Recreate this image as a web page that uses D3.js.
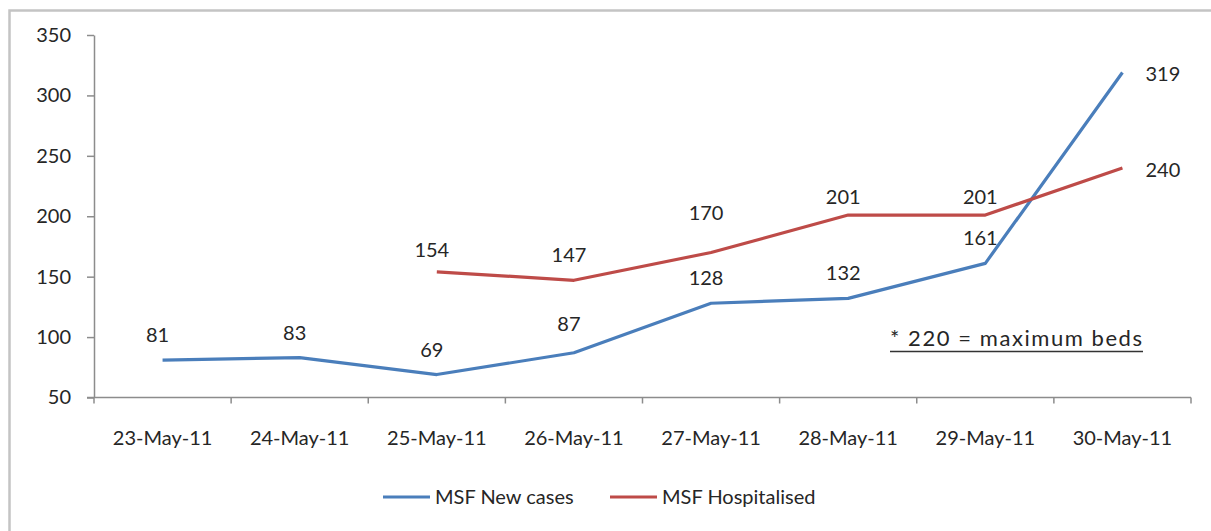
<!DOCTYPE html>
<html><head><meta charset="utf-8">
<script src="https://cdn.jsdelivr.net/npm/d3@7"></script>
<style>
html,body{margin:0;padding:0;background:#fff;}
svg{display:block;}
text{font-family:"Lato","Open Sans",sans-serif;fill:#262626;}
</style></head>
<body>
<svg id="chart" width="1211" height="531"></svg>
<script>
const categories = ["23-May-11","24-May-11","25-May-11","26-May-11","27-May-11","28-May-11","29-May-11","30-May-11"];
const newCases = [81, 83, 69, 87, 128, 132, 161, 319];
const hospitalised = [null, null, 154, 147, 170, 201, 201, 240];
const yTicks = [50, 100, 150, 200, 250, 300, 350];
const seriesNames = ["MSF New cases", "MSF Hospitalised"];
const seriesColors = ["#4a7ebb", "#be4b48"];
const note = "* 220 = maximum beds";

const FS = 20;
const svg = d3.select("#chart");
const L = 94, R = 1191, T = 35, B = 397.5;

// outer frame
svg.append("rect").attr("x",9.5).attr("y",10.5).attr("width",1400).attr("height",700)
  .attr("fill","none").attr("stroke","#c4c4c4").attr("stroke-width",2.5);

const x = d3.scaleBand().domain(categories).range([L, R]);
const cx = d => x(d) + x.bandwidth()/2;
const y = d3.scaleLinear().domain([50, 350]).range([B, T]);

// y axis
const yAxis = svg.append("g").attr("transform",`translate(${L},0)`)
  .call(d3.axisLeft(y).tickValues(yTicks).tickSize(7).tickPadding(16).tickSizeOuter(0));
yAxis.select(".domain").attr("stroke","#8c8c8c").attr("stroke-width",1.5);
yAxis.selectAll(".tick line").attr("stroke","#8c8c8c").attr("stroke-width",1.5);
yAxis.selectAll(".tick text").attr("font-size",FS).attr("font-family","Lato").attr("fill","#262626");

// x axis
const xAxis = svg.append("g").attr("transform",`translate(0,${B})`)
  .call(d3.axisBottom(x).tickSize(0).tickPadding(33));
xAxis.select(".domain").remove();
xAxis.append("line").attr("x1",L-7).attr("x2",R).attr("y1",0).attr("y2",0)
  .attr("stroke","#8c8c8c").attr("stroke-width",1.5);
const bounds = categories.map(c => x(c)).concat([R]);
xAxis.selectAll(".xt").data(bounds).join("line").attr("class","xt")
  .attr("x1",d=>d).attr("x2",d=>d).attr("y1",0).attr("y2",6)
  .attr("stroke","#8c8c8c").attr("stroke-width",1.5);
xAxis.selectAll(".tick text").attr("font-size",FS).attr("font-family","Lato").attr("fill","#262626");

// lines
const line = d3.line().defined(d => d.v != null).x(d => cx(d.c)).y(d => y(d.v));
const series = [newCases, hospitalised];
series.forEach((vals, i) => {
  const pts = categories.map((c, j) => ({c, v: vals[j]}));
  svg.append("path").datum(pts).attr("d", line)
    .attr("fill","none").attr("stroke",seriesColors[i]).attr("stroke-width",3.2)
    .attr("stroke-linejoin","round");
});

// data labels
const nudge = {"1-4": -15, "1-5": 7, "1-6": 7, "1-2": 3, "0-3": -4};
series.forEach((vals, i) => {
  vals.forEach((v, j) => {
    if (v == null) return;
    const last = j === categories.length - 1;
    const t = svg.append("text").text(v).attr("font-size",FS).attr("fill","#262626");
    if (last) {
      t.attr("x", cx(categories[j]) + 23).attr("y", y(v) + 2).attr("dy","0.35em").attr("text-anchor","start");
    } else {
      const dy = nudge[i + "-" + j] || 0;
      t.attr("x", cx(categories[j]) - 5).attr("y", y(v) - 25 + dy).attr("dy","0.35em").attr("text-anchor","middle");
    }
  });
});

// annotation
svg.append("text").attr("x",890).attr("y",346).attr("font-size",22).attr("fill","#262626")
  .attr("textLength",252).attr("lengthAdjust","spacing").text(note);
svg.append("line").attr("x1",890).attr("x2",1143).attr("y1",351.5).attr("y2",351.5)
  .attr("stroke","#333").attr("stroke-width",1.6);

// legend
const legX = [383, 610];
seriesNames.forEach((n, i) => {
  svg.append("line").attr("x1",legX[i]).attr("x2",legX[i]+47).attr("y1",497).attr("y2",497)
    .attr("stroke",seriesColors[i]).attr("stroke-width",3.2);
  svg.append("text").attr("x",legX[i]+52).attr("y",497).attr("dy","0.35em")
    .attr("font-size",FS).attr("fill","#262626").text(n);
});
</script>
</body></html>
